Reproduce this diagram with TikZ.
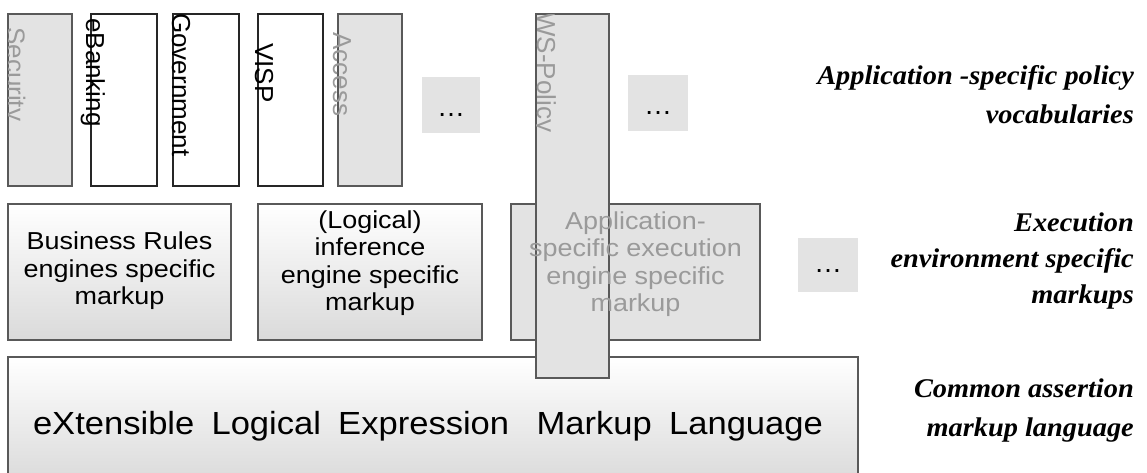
\documentclass[tikz,border=0pt]{standalone}
\usepackage{fontspec}
\setmainfont{Liberation Sans}
\newfontfamily\widesans[FakeStretch=1.1]{Liberation Sans}
\newfontfamily\bigsans[FakeStretch=1.08]{Liberation Sans}
\newfontfamily\labelserif[FakeStretch=1.05]{Liberation Serif}
\definecolor{boxgray}{HTML}{E3E3E3}
\definecolor{edgegray}{HTML}{595959}
\definecolor{textgray}{HTML}{9A9A9A}
\definecolor{shadegray}{HTML}{DADADA}
\tikzset{
  base/.style={rectangle, inner sep=0pt, outer sep=0pt, line width=1.1pt},
  graybox/.style={base, draw=edgegray, fill=boxgray},
  whitebox/.style={base, draw=black!85, fill=white},
  gradbox/.style={base, draw=edgegray, top color=white, bottom color=shadegray},
  dotbox/.style={base, fill=boxgray, text depth=0pt, font=\fontsize{28}{28}\selectfont},
  vlabel/.style={rotate=-90, anchor=base west, inner sep=0pt, font=\fontsize{26}{26}\selectfont},
  boxtext/.style={align=center, inner sep=0pt, font=\widesans\fontsize{24.5}{27.5}\selectfont},
  sidelabel/.style={anchor=base east, inner sep=0pt, font=\labelserif\bfseries\itshape\fontsize{27}{27}\selectfont}
}
\begin{document}
\begin{tikzpicture}[x=1pt,y=-1pt]
\useasboundingbox (0,0) rectangle (1147,472);

% policy vocabularies
\node[graybox, minimum width=64, minimum height=172] (sec) at (40,100) {};
\node[whitebox, minimum width=66, minimum height=172] (ebk) at (124,100) {};
\node[whitebox, minimum width=66, minimum height=172] (gov) at (206,100) {};
\node[whitebox, minimum width=65, minimum height=172] (visp) at (290.5,100) {};
\node[graybox, minimum width=64, minimum height=172] (acc) at (370,100) {};
\node[dotbox, text height=23pt, minimum width=58, minimum height=56] (dotsa) at (451,105) {\dots};
\node[dotbox, text height=23pt, minimum width=60, minimum height=56] (dotsb) at (658,103) {\dots};

\begin{scope}
  \clip (sec.north west) rectangle (sec.south east);
  \node[vlabel, text=textgray] (tsec) at (6.5,27) {Security};
\end{scope}
\node[vlabel] (tebk) at (86,18) {eBanking};
\node[vlabel] (tgov) at (172,13) {Government};
\node[vlabel] (tvisp) at (255,43) {VISP};
\node[vlabel, text=textgray] (tacc) at (333,32) {Access};

% execution environment markups
\node[gradbox, minimum width=223, minimum height=136] (br) at (119.5,272) {};
\node[gradbox, minimum width=224, minimum height=136] (inf) at (370,272) {};
\node[graybox, minimum width=249, minimum height=136] (app) at (635.5,272) {};
\node[dotbox, text height=14pt, minimum width=60, minimum height=54] (dotsc) at (828,265) {\dots};

% common assertion markup
\node[gradbox, minimum width=850, minimum height=126] (xlem) at (433,420) {};

% WS-Policy spans all layers
\node[graybox, minimum width=73, minimum height=364] (ws) at (572.5,196) {};
\begin{scope}
  \clip (ws.north west) rectangle (ws.south east);
  \node[vlabel, text=textgray] (tws) at (537,12) {WS-Policy};
\end{scope}

\node[boxtext] (tbr) at (119.5,271) {Business Rules\\engines specific\\markup};
\node[boxtext] (tinf) at (370,263) {(Logical)\\inference\\engine specific\\markup};
\node[boxtext, text=textgray] (tapp) at (635.5,264) {Application-\\specific execution\\engine specific\\markup};

\node[anchor=base, inner sep=0pt, font=\bigsans\fontsize{32}{32}\selectfont] (txlem) at (428,434)
  {\makebox[790pt][s]{eXtensible\hspace{\stretch{1}}Logical\hspace{\stretch{1}}Expression\hspace{\stretch{1.6}}Markup\hspace{\stretch{1}}Language}};

% layer captions
\node[sidelabel] (c1a) at (1134,84) {Application -specific policy};
\node[sidelabel] (c1b) at (1134,123) {vocabularies};
\node[sidelabel] (c2a) at (1134,231) {Execution};
\node[sidelabel] (c2b) at (1134,267) {environment specific};
\node[sidelabel] (c2c) at (1134,303) {markups};
\node[sidelabel] (c3a) at (1134,397) {Common assertion};
\node[sidelabel] (c3b) at (1134,436) {markup language};
\end{tikzpicture}
\end{document}
